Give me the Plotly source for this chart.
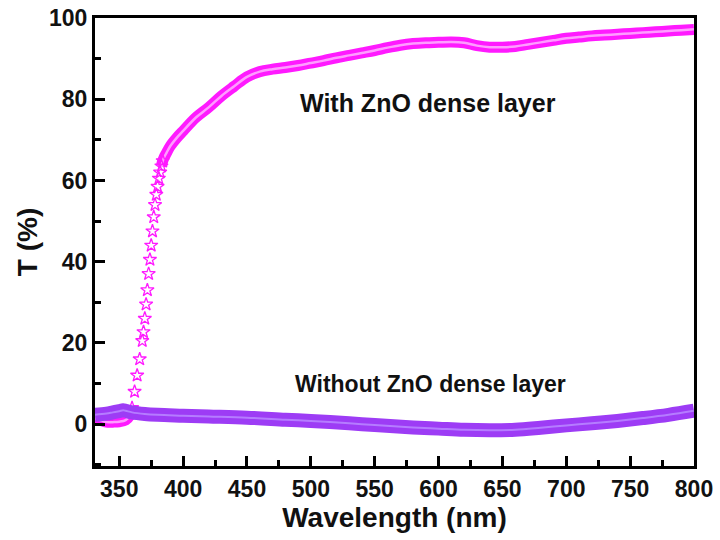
import plotly.graph_objects as go

# With ZnO dense layer (wavelength nm, T %)
wl_with = [331, 335, 340, 345, 350, 355, 358, 360, 362, 364, 366, 368, 369, 370, 371, 372,
           373, 374, 375, 376, 377, 378, 379, 380, 381, 382, 383, 384, 385, 387, 390, 395,
           400, 410, 420, 430, 440, 450, 460, 470, 480, 490, 500, 510, 520, 530, 540, 550,
           560, 570, 580, 590, 600, 610, 620, 630, 640, 650, 660, 670, 680, 690, 700, 710,
           720, 730, 740, 750, 760, 770, 780, 790, 800]
t_with = [1.5, 1.0, 0.5, 0.5, 0.6, 1.0, 2.0, 4.0, 8.0, 12.0, 16.0, 20.5, 22.7, 26.0, 29.5, 33.0,
          37.0, 40.5, 44.0, 47.5, 51.0, 54.0, 56.5, 58.5, 60.5, 62.0, 63.5, 64.8, 65.6, 66.8, 68.5, 70.5,
          72.2, 75.5, 78.0, 80.8, 83.2, 85.5, 86.8, 87.4, 87.8, 88.3, 88.9, 89.5, 90.2, 90.8, 91.4, 92.0,
          92.7, 93.3, 93.7, 93.9, 94.0, 94.1, 93.9, 93.2, 92.8, 92.8, 93.0, 93.5, 94.0, 94.5, 95.0, 95.3,
          95.6, 95.8, 96.0, 96.2, 96.4, 96.6, 96.8, 97.0, 97.2]

# Without ZnO dense layer
wl_without = [331, 340, 345, 350, 353, 355, 360, 370, 380, 400, 420, 450, 480, 500, 530, 550,
              580, 600, 620, 640, 660, 680, 700, 720, 740, 760, 780, 800]
t_without = [2.3, 2.6, 2.9, 3.2, 3.4, 3.3, 2.9, 2.5, 2.3, 2.1, 1.9, 1.6, 1.1, 0.8, 0.2, -0.2,
             -0.8, -1.1, -1.4, -1.5, -1.4, -0.9, -0.3, 0.2, 0.8, 1.5, 2.3, 3.3]

x_ticks = [350, 400, 450, 500, 550, 600, 650, 700, 750, 800]
y_ticks = [0, 20, 40, 60, 80, 100]

MAG = "#FF1AFF"
PUR = "#9D3CF5"
FONT = "Arial, Liberation Sans, sans-serif"

# split the "with" curve: dense band at the flat parts, discrete stars at the steep edge
low_x = [x for x in wl_with if x <= 360]
low_y = [y for x, y in zip(wl_with, t_with) if x <= 360]
high_x = [x for x in wl_with if x >= 383]
high_y = [y for x, y in zip(wl_with, t_with) if x >= 383]
band_x = low_x + [None] + high_x
band_y = low_y + [None] + high_y
steep_x = [x for x in wl_with if 360 <= x <= 384]
steep_y = [y for x, y in zip(wl_with, t_with) if 360 <= x <= 384]

fig = go.Figure()
fig.add_trace(go.Scatter(x=band_x, y=band_y, mode="lines", connectgaps=False,
                         line=dict(color=MAG, width=11, shape="spline"), showlegend=False))
fig.add_trace(go.Scatter(x=band_x, y=band_y, mode="lines", connectgaps=False,
                         line=dict(color="#FF9CFF", width=2.5, shape="spline"), showlegend=False))
fig.add_trace(go.Scatter(x=steep_x, y=steep_y, mode="markers",
                         marker=dict(symbol="star-open", size=10, color=MAG, line=dict(width=1.3, color=MAG)),
                         showlegend=False))
# Without ZnO: thick striated band
fig.add_trace(go.Scatter(x=wl_without, y=t_without, mode="lines",
                         line=dict(color=PUR, width=14, shape="spline"), showlegend=False))
fig.add_trace(go.Scatter(x=wl_without, y=t_without, mode="lines",
                         line=dict(color="#B57CFF", width=2, shape="spline"), showlegend=False))

fig.add_annotation(x=592, y=79, text="<b>With ZnO dense layer</b>", showarrow=False,
                   font=dict(family=FONT, size=25, color="#111111"))
fig.add_annotation(x=594, y=10, text="<b>Without ZnO dense layer</b>", showarrow=False,
                   font=dict(family=FONT, size=23, color="#111111"))

axis_common = dict(showline=True, linecolor="black", linewidth=3, mirror=True,
                   ticks="inside", ticklen=10, tickwidth=2.5, tickcolor="black",
                   showgrid=False, zeroline=False, automargin=False,
                   tickfont=dict(family=FONT, size=23, color="#111111"))
fig.update_xaxes(range=[331, 800], tickvals=x_ticks, ticktext=[f"<b>{v}</b>" for v in x_ticks],
                 minor=dict(dtick=25, tick0=325, ticks="inside", ticklen=6, tickwidth=2.5, tickcolor="black"),
                 title=dict(text="<b>Wavelength (nm)</b>", font=dict(family=FONT, size=28, color="#111111"), standoff=2),
                 **axis_common)
fig.update_yaxes(range=[-10.3, 100], tickvals=y_ticks, ticktext=[f"<b>{v}</b>" for v in y_ticks],
                 minor=dict(dtick=10, tick0=-10, ticks="inside", ticklen=6, tickwidth=2.5, tickcolor="black"),
                 title=dict(text="<b>T (%)</b>", font=dict(family=FONT, size=28, color="#111111"), standoff=4),
                 **axis_common)
fig.update_layout(width=720, height=540, margin=dict(l=95, r=26, t=18, b=74),
                  plot_bgcolor="white", paper_bgcolor="white")
fig.write_html("out.html")
